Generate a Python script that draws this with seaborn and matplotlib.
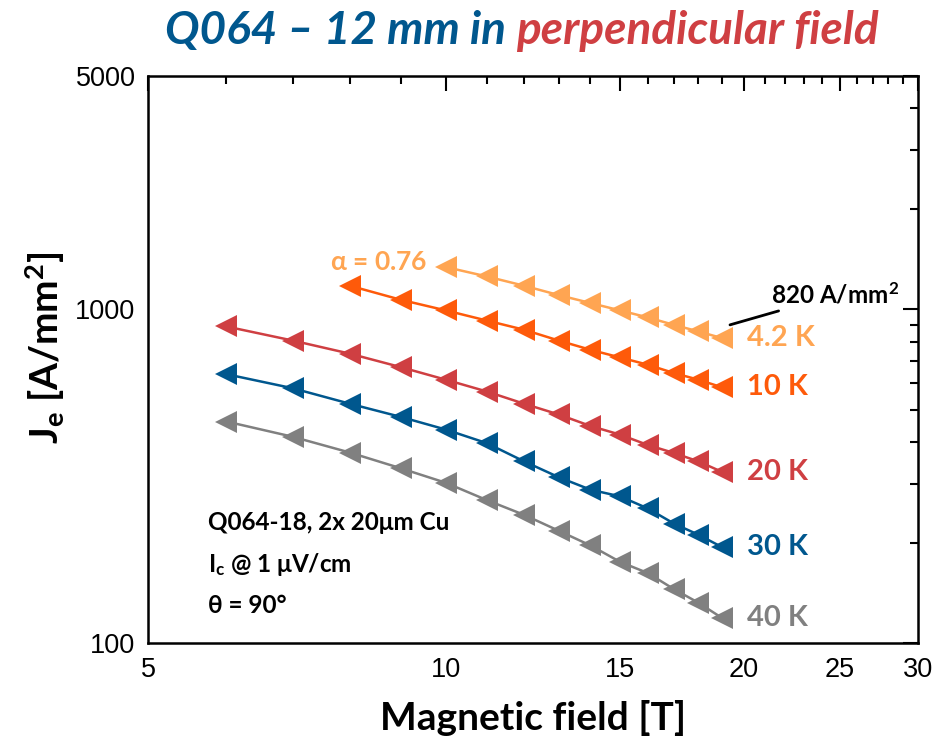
import numpy as np
import pandas as pd
import matplotlib
matplotlib.use("Agg")
import matplotlib.pyplot as plt
from matplotlib.ticker import FixedLocator, FixedFormatter, NullFormatter
import seaborn as sns

# Engineering current density of Q064 (12 mm) in perpendicular field
field_42K = [10, 11, 12, 13, 14, 15, 16, 17, 18, 19]
je_42K = [1338, 1254, 1176, 1103, 1044, 992, 945, 898, 858, 820]

field_10K = [8, 9, 10, 11, 12, 13, 14, 15, 16, 17, 18, 19]
je_10K = [1176, 1068, 992, 925, 868, 806, 756, 717, 682, 644, 615, 584]

field_20K = [6, 7, 8, 9, 10, 11, 12, 13, 14, 15, 16, 17, 18, 19]
je_20K = [888, 806, 736, 671, 615, 567, 521, 484, 447, 421, 392, 371, 350, 326]

field_30K = [6, 7, 8, 9, 10, 11, 12, 13, 14, 15, 16, 17, 18, 19]
je_30K = [639, 580, 521, 476, 436, 397, 350, 314, 288, 275, 253, 228, 211, 194]

field_40K = [6, 7, 8, 9, 10, 11, 12, 13, 14, 15, 16, 17, 18, 19]
je_40K = [461, 415, 372, 334, 302, 268, 242, 217, 196, 175, 162, 145, 132, 119]

temperatures = ["4.2 K", "10 K", "20 K", "30 K", "40 K"]
colors = ["#ffa552", "#fe5a0a", "#cf3f42", "#00578e", "#808080"]

x_ticks = [5, 10, 15, 20, 25, 30]
y_ticks = [100, 1000, 5000]

fields = [field_42K, field_10K, field_20K, field_30K, field_40K]
currents = [je_42K, je_10K, je_20K, je_30K, je_40K]

df = pd.concat(
    [pd.DataFrame({"B": b, "Je": j, "T": t}) for b, j, t in zip(fields, currents, temperatures)],
    ignore_index=True,
)

sns.set_theme(style="white")
plt.rcParams["font.family"] = ["Lato", "DejaVu Sans"]
plt.rcParams["mathtext.fontset"] = "custom"
plt.rcParams["mathtext.rm"] = "Lato:bold"
plt.rcParams["mathtext.bf"] = "Lato:bold"
plt.rcParams["mathtext.it"] = "Lato:bold"
plt.rcParams["mathtext.default"] = "bf"

fig = plt.figure(figsize=(9.42, 7.5), dpi=100)
ax = fig.add_axes([148 / 942, 1 - 643 / 750, 770 / 942, 567 / 750])

sns.lineplot(
    data=df, x="B", y="Je", hue="T", hue_order=temperatures,
    palette=dict(zip(temperatures, colors)), marker="<", markersize=16,
    markeredgewidth=0, linewidth=1.8, legend=False, ax=ax, sort=False,
)

ax.set_xscale("log")
ax.set_yscale("log")
ax.set_xlim(5, 30)
ax.set_ylim(100, 5000)

ax.xaxis.set_major_locator(FixedLocator(x_ticks))
ax.xaxis.set_major_formatter(FixedFormatter([str(v) for v in x_ticks]))
ax.xaxis.set_minor_locator(FixedLocator([v for v in range(6, 30) if v not in x_ticks]))
ax.xaxis.set_minor_formatter(NullFormatter())
ax.yaxis.set_major_locator(FixedLocator(y_ticks))
ax.yaxis.set_major_formatter(FixedFormatter([str(v) for v in y_ticks]))
ax.yaxis.set_minor_locator(FixedLocator([200, 300, 400, 500, 600, 700, 800, 900, 2000, 3000, 4000]))
ax.yaxis.set_minor_formatter(NullFormatter())

for s in ax.spines.values():
    s.set_color("black")
    s.set_linewidth(1.8)
ax.tick_params(which="both", direction="in", top=True, right=True, color="black", width=1.5)
ax.tick_params(which="major", length=11)
ax.tick_params(which="minor", length=6)
ax.tick_params(axis="y", which="major", pad=9)
ax.tick_params(axis="x", which="major", pad=10)
for lab in ax.get_xticklabels() + ax.get_yticklabels():
    lab.set_fontfamily("Liberation Sans")
    lab.set_fontsize(19.5)
    lab.set_color("black")

ax.set_xlabel("Magnetic field [T]", fontsize=28, fontweight="bold", color="black")
ax.xaxis.set_label_coords(0.5, -0.132)
ax.xaxis.label.set_va("center")
ax.set_ylabel(r"J$_e$ [A/mm$^2$]", fontsize=28, fontweight="bold", color="black")
ax.yaxis.set_label_coords(-0.134, 0.52)
ax.yaxis.label.set_va("center")

# temperature labels at the end of each curve
for b, j, t, c in zip(fields, currents, temperatures, colors):
    ax.annotate(t, xy=(b[-1], j[-1]), xytext=(18.5, 0), textcoords="offset points",
                ha="left", va="center", fontsize=21, fontweight="bold", color=c)

# field exponent of the 4.2 K curve
ax.annotate(r"$\alpha$ = 0.76", xy=(field_42K[0], je_42K[0]), xytext=(-13, 3.5),
            textcoords="offset points", ha="right", va="center", fontsize=19,
            fontweight="bold", color=colors[0])

# value callout at 19 T, 4.2 K
ax.annotate(r"820 A/mm$^2$", xy=(19.37, 898), xytext=(21.3, 1105), ha="left", va="center",
            fontsize=17.5, fontweight="bold", color="black",
            arrowprops=dict(arrowstyle="-", color="black", lw=2, shrinkA=0, shrinkB=0))

info = [r"Q064-18, 2x 20μm Cu", r"I$_c$ @ 1 μV/cm", r"θ = 90°"]
for txt, yy in zip(info, [0.2134, 0.1376, 0.067]):
    ax.text(0.078, yy, txt, transform=ax.transAxes, ha="left", va="center",
            fontsize=17.5, fontweight="bold", color="black")

# two-colour title
fig.canvas.draw()
renderer = fig.canvas.get_renderer()
t1 = fig.text(0, 0.958, "Q064 – 12 mm in ", fontsize=33, fontweight="bold", fontstyle="italic",
              color="#00578e", ha="left", va="center")
t2 = fig.text(0, 0.958, "perpendicular field", fontsize=33, fontweight="bold", fontstyle="italic",
              color="#cf3f42", ha="left", va="center")
w1 = t1.get_window_extent(renderer).width
w2 = t2.get_window_extent(renderer).width
start = (522 - (w1 + w2) / 2) / 942
t1.set_x(start)
t2.set_x(start + w1 / 942)

fig.savefig("out.png", dpi=100, facecolor="white")
